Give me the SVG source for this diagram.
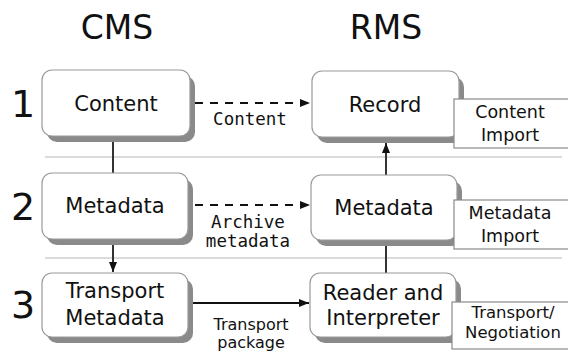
<svg xmlns="http://www.w3.org/2000/svg" width="568" height="351" viewBox="0 0 568 351">
<style>
text{font-family:"DejaVu Sans","Liberation Sans",sans-serif;fill:#111}
.title{font-size:33px}
.num{font-size:38px}
.node{font-size:21px;text-anchor:middle}
.side{font-size:17.5px;text-anchor:middle}
.side2{font-size:16.5px;text-anchor:middle}
.mono{font-family:"DejaVu Sans Mono","Liberation Mono",monospace;font-size:17.5px;text-anchor:middle}
.lab{font-size:16px;text-anchor:middle}
.shadow{fill:#8a8a8a}
.box{fill:#fff;stroke:#9a9a9a;stroke-width:1.2}
.sbox{fill:#fff;stroke:#8a8a8a;stroke-width:1.2}
.sep{stroke:#cfcfcf;stroke-width:1.5}
.conn{stroke:#111;stroke-width:2;fill:none}
.link{stroke:#333;stroke-width:2;fill:none}
</style>
<defs>
<marker id="ah" viewBox="0 0 10 10" refX="10" refY="5" markerWidth="5" markerHeight="5" orient="auto" markerUnits="strokeWidth">
<path d="M0,1 L10,5 L0,9 Z" fill="#111"/>
</marker>
</defs>
<rect width="568" height="351" fill="#fff"/>
<text class="title" x="117" y="39" text-anchor="middle">CMS</text>
<text class="title" x="386" y="39" text-anchor="middle">RMS</text>
<text class="num" x="23" y="117" text-anchor="middle">1</text>
<text class="num" x="23" y="220" text-anchor="middle">2</text>
<text class="num" x="23" y="318" text-anchor="middle">3</text>
<g id="separators">
<line class="sep" x1="45" y1="157" x2="562" y2="157"/>
<line class="sep" x1="45" y1="258" x2="562" y2="258"/>
</g>
<g id="connectors">
<line class="link" x1="113" y1="141" x2="113" y2="173"/>
<line class="link" x1="113" y1="245" x2="113" y2="272" marker-end="url(#ah)"/>
<line class="link" x1="386" y1="175" x2="386" y2="143" marker-end="url(#ah)"/>
<line class="link" x1="386" y1="245" x2="386" y2="273"/>
<line class="conn" x1="195" y1="103" x2="310" y2="103" stroke-dasharray="8,7" marker-end="url(#ah)"/>
<line class="conn" x1="195" y1="205" x2="310" y2="205" stroke-dasharray="8,7" marker-end="url(#ah)"/>
<line class="conn" x1="193" y1="303" x2="309" y2="303" marker-end="url(#ah)"/>
<text class="mono" x="250" y="125">Content</text>
<text class="mono" x="248" y="228">Archive</text>
<text class="mono" x="248" y="247">metadata</text>
<text class="lab" x="251" y="330">Transport</text>
<text class="lab" x="251" y="348">package</text>
</g>
<g id="cms-content">
<rect class="shadow" x="47" y="76" width="148" height="66" rx="10"/>
<rect class="box" x="42" y="70" width="148" height="66" rx="10"/>
<text class="node" x="116" y="111">Content</text>
</g>
<g id="cms-metadata">
<rect class="shadow" x="47" y="179" width="146" height="66" rx="10"/>
<rect class="box" x="42" y="173" width="146" height="66" rx="10"/>
<text class="node" x="115" y="213">Metadata</text>
</g>
<g id="cms-transport">
<rect class="shadow" x="47" y="279" width="146" height="64" rx="10"/>
<rect class="box" x="42" y="273" width="146" height="64" rx="10"/>
<text class="node" x="115" y="298">Transport</text>
<text class="node" x="115" y="325">Metadata</text>
</g>
<g id="rms-record">
<rect class="shadow" x="317" y="77" width="147" height="66" rx="10"/>
<rect class="box" x="312" y="71" width="147" height="66" rx="10"/>
<text class="node" x="385" y="112">Record</text>
</g>
<g id="content-import">
<rect class="sbox" x="454" y="99" width="120" height="49"/>
<text class="side" x="510" y="118">Content</text>
<text class="side" x="510" y="141">Import</text>
</g>
<g id="rms-metadata">
<rect class="shadow" x="316" y="181" width="146" height="65" rx="10"/>
<rect class="box" x="311" y="175" width="146" height="65" rx="10"/>
<text class="node" x="384" y="215">Metadata</text>
</g>
<g id="metadata-import">
<rect class="sbox" x="454" y="200" width="120" height="49"/>
<text class="side" x="510" y="219">Metadata</text>
<text class="side" x="510" y="242">Import</text>
</g>
<g id="rms-reader">
<rect class="shadow" x="315" y="279" width="146" height="64" rx="10"/>
<rect class="box" x="310" y="273" width="146" height="64" rx="10"/>
<text class="node" x="383" y="300">Reader and</text>
<text class="node" x="383" y="325">Interpreter</text>
</g>
<g id="transport-negotiation">
<rect class="sbox" x="452" y="302" width="122" height="47"/>
<text class="side2" x="513" y="318">Transport/</text>
<text class="side2" x="513" y="338">Negotiation</text>
</g>
</svg>
